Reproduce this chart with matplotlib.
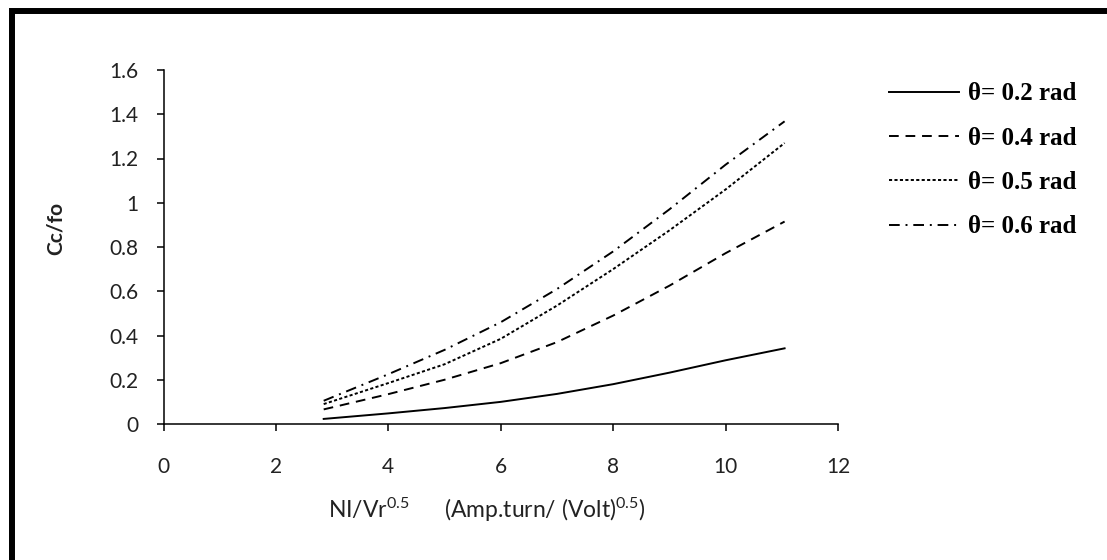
import matplotlib
matplotlib.use("Agg")
import matplotlib.pyplot as plt
from matplotlib.patches import Rectangle

plt.rcParams['font.family'] = ['Lato', 'DejaVu Sans']
plt.rcParams['mathtext.fontset'] = 'custom'
plt.rcParams['mathtext.rm'] = 'Lato'
plt.rcParams['mathtext.it'] = 'Lato:italic'
plt.rcParams['mathtext.bf'] = 'Lato:bold'

# data
x_vals = [2.85, 4, 5, 6, 7, 8, 9, 10, 11.05]
theta_02 = [0.023, 0.048, 0.072, 0.100, 0.136, 0.180, 0.232, 0.288, 0.342]
theta_04 = [0.066, 0.135, 0.200, 0.275, 0.370, 0.490, 0.625, 0.772, 0.915]
theta_05 = [0.090, 0.185, 0.270, 0.385, 0.535, 0.700, 0.875, 1.060, 1.270]
theta_06 = [0.105, 0.225, 0.335, 0.460, 0.610, 0.780, 0.970, 1.172, 1.368]
series_labels = ['θ= 0.2 rad', 'θ= 0.4 rad', 'θ= 0.5 rad', 'θ= 0.6 rad']
x_ticks = [0, 2, 4, 6, 8, 10, 12]
y_ticks = [0, 0.2, 0.4, 0.6, 0.8, 1.0, 1.2, 1.4, 1.6]
y_tick_labels = ['0', '0.2', '0.4', '0.6', '0.8', '1', '1.2', '1.4', '1.6']

W, H = 1107, 560
fig = plt.figure(figsize=(W / 100, H / 100), dpi=100)
ax = fig.add_axes([163.5 / W, 1 - 424 / H, (838 - 163.5) / W, (424 - 70) / H])

styles = ['-', (0, (5, 3.5)), (0, (1.6, 1.2)), (0, (5.5, 3, 1, 3))]
series = [theta_02, theta_04, theta_05, theta_06]
handles = []
for ys, ls, lab in zip(series, styles, series_labels):
    h, = ax.plot(x_vals, ys, color='black', lw=1.4, linestyle=ls, label=lab)
    handles.append(h)

ax.set_xlim(0, 12)
ax.set_ylim(0, 1.6)
ax.set_xticks(x_ticks)
ax.set_yticks(y_ticks)
ax.set_yticklabels(y_tick_labels)
for s in ['top', 'right']:
    ax.spines[s].set_visible(False)
for s in ['left', 'bottom']:
    ax.spines[s].set_linewidth(1.1)
ax.tick_params(axis='both', direction='out', length=5, width=1.1,
               labelsize=15, labelcolor='#222222')
ax.tick_params(axis='y', pad=13)
ax.tick_params(axis='x', pad=19)

fig.text(56 / W, 1 - 228 / H, 'Cc/fo', rotation=90, ha='center', va='center',
         fontsize=15, fontweight='bold', color='#222222')
fig.text(487 / W, 1 - 510 / H,
         r'NI/Vr$^{0.5}$      (Amp.turn/ (Volt)$^{0.5}$)',
         ha='center', va='center', fontsize=16.5, color='#222222')

leg = fig.legend(handles=handles, labels=series_labels, loc='upper left',
                 bbox_to_anchor=(866 / W, 1 - 60 / H), frameon=False,
                 handlelength=2.8, handletextpad=0.36, labelspacing=0.85,
                 prop={'family': 'Liberation Serif', 'weight': 'bold', 'size': 18})

# black frame (left and top edges visible)
fig.add_artist(Rectangle((12 / W, -0.5), 2.0, 0.5 + (1 - 11 / H),
                         transform=fig.transFigure, fill=False,
                         edgecolor='black', lw=4.3, clip_on=False))

fig.savefig('out.png', dpi=100)
